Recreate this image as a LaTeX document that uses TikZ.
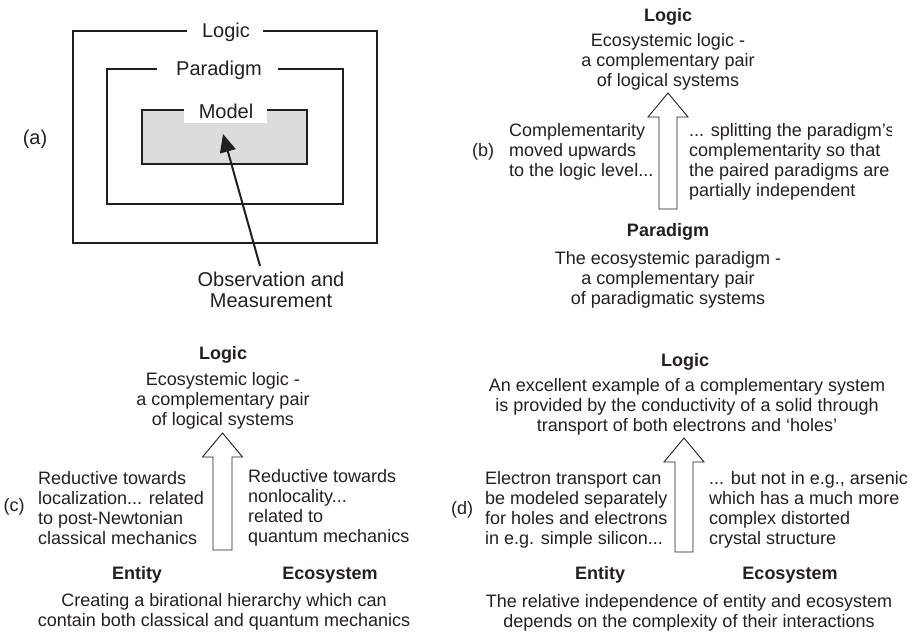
\documentclass[tikz,border=0pt]{standalone}
\usepackage{fontspec}
\setmainfont{Liberation Sans}
\usetikzlibrary{arrows.meta}
\definecolor{ink}{HTML}{231F20}
\definecolor{boxgray}{HTML}{DCDCDC}
\begin{document}
\begin{tikzpicture}[x=1pt,y=-1pt,
  txt/.style={inner sep=0pt, text=ink, yshift=-2pt, font=\fontsize{18}{20}\selectfont},
  txtc/.style={txt, align=center},
  txtl/.style={txt, align=left, anchor=west},
  ttl/.style={inner sep=0pt, text=ink, yshift=-2pt, font=\fontsize{18}{20}\selectfont\bfseries},
  bigtxt/.style={inner sep=0pt, text=ink, font=\fontsize{20}{21}\selectfont, align=center},
  frame/.style={draw=ink, line width=2.7pt, line cap=butt},
  blockarrow/.style={draw=ink, line width=0.9pt, fill=white, line join=miter}
]
\useasboundingbox (0,0) rectangle (917,631);

% ---------------- panel (a)
\fill[boxgray] (142,110) rectangle (307,164);
\fill[white] (184,100) rectangle (267,123);
\draw[frame] (187,31) -- (73,31) -- (73,243) -- (377,243) -- (377,31) -- (263,31);
\draw[frame] (157,69) -- (107,69) -- (107,204) -- (343,204) -- (343,69) -- (278,69);
\draw[frame] (184,110) -- (142,110) -- (142,164) -- (307,164) -- (307,110) -- (267,110);
\node[bigtxt] (alab) at (35,139) {(a)};
\node[bigtxt] (alogic) at (226,32) {Logic};
\node[bigtxt] (apar) at (219,70) {Paradigm};
\node[bigtxt] (amodel) at (226,111) {Model};
\node[bigtxt] (aobs) at (271,290) {Observation and\\Measurement};
\coordinate (aobstop) at (260,266);
\coordinate (amtip) at (223,134);
\draw[ink, line width=2pt, -{Triangle[length=18pt,width=16pt]}] (aobstop) -- (amtip);

% ---------------- panel (b)
\node[ttl] (blogic) at (668,15) {Logic};
\node[txtc] (blogtxt) at (668,60) {Ecosystemic logic -\\a complementary pair\\of logical systems};
\coordinate (barr) at (668,209);
\draw[blockarrow] (barr) ++(-9,0) -- ++(0,-92) -- ++(-11,0) -- ++(20,-24) -- ++(20,24) -- ++(-11,0) -- ++(0,92) -- cycle;
\node[txt] (blab) at (483,150) {(b)};
\node[txtl] (bleft) at (509,150) {Complementarity\\moved upwards\\to the logic level...};
\begin{scope}
\clip (680,100) rectangle (891,210);
\node[txtl] (bright) at (689,160) {... splitting the paradigm’s\\complementarity so that\\the paired paradigms are\\partially independent};
\end{scope}
\node[ttl] (bpar) at (668,230) {Paradigm};
\node[txtc] (bpartxt) at (668,278) {The ecosystemic paradigm -\\a complementary pair\\of paradigmatic systems};

% ---------------- panel (c)
\node[ttl] (clogic) at (223,353) {Logic};
\node[txtc] (clogtxt) at (223,399) {Ecosystemic logic -\\a complementary pair\\of logical systems};
\coordinate (carr) at (222.5,550);
\draw[blockarrow] (carr) ++(-9.5,0) -- ++(0,-93) -- ++(-10.5,0) -- ++(20,-24) -- ++(20,24) -- ++(-10.5,0) -- ++(0,93) -- cycle;
\node[txt] (clab) at (14,505) {(c)};
\node[txtl] (cleft) at (38,506) {Reductive towards\\localization... related\\to post-Newtonian\\classical mechanics};
\begin{scope}
\clip (0,440) rectangle (411,631);
\node[txtl] (cright) at (248,506) {Reductive towards\\nonlocality...\\related to\\quantum mechanics};
\node[txtc] (cbottom) at (224,610) {Creating a birational hierarchy which can\\contain both classical and quantum mechanics};
\end{scope}
\node[ttl] (cent) at (137,573) {Entity};
\node[ttl] (ceco) at (330,573) {Ecosystem};

% ---------------- panel (d)
\node[ttl] (dlogic) at (685,360) {Logic};
\node[txtc] (dlogtxt) at (687,405) {An excellent example of a complementary system\\is provided by the conductivity of a solid through\\transport of both electrons and ‘holes’};
\coordinate (darr) at (684,552);
\draw[blockarrow] (darr) ++(-9,0) -- ++(0,-90) -- ++(-11,0) -- ++(20,-24) -- ++(20,24) -- ++(-11,0) -- ++(0,90) -- cycle;
\node[txt] (dlab) at (462,508) {(d)};
\node[txtl] (dleft) at (485,508) {Electron transport can\\be modeled separately\\for holes and electrons\\in e.g. simple silicon...};
\node[txtl] (dright) at (709,508) {... but not in e.g., arsenic\\which has a much more\\complex distorted\\crystal structure};
\node[ttl] (dent) at (600,573) {Entity};
\node[ttl] (deco) at (790,573) {Ecosystem};
\node[txtc] (dbottom) at (689,611) {The relative independence of entity and ecosystem\\depends on the complexity of their interactions};
\end{tikzpicture}
\end{document}
